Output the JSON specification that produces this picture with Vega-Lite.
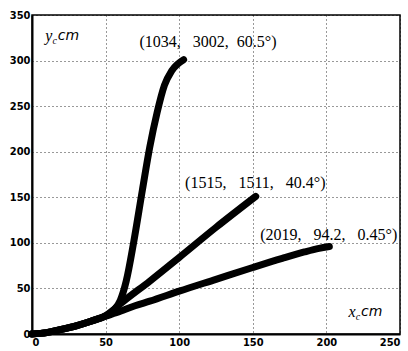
{
  "$schema": "https://vega.github.io/schema/vega-lite/v6.json",
  "width": 368,
  "height": 319,
  "autosize": "none",
  "padding": {"left": 32, "top": 15, "right": 8, "bottom": 17},
  "background": "white",
  "config": {
    "view": {"stroke": "black", "strokeWidth": 1.5},
    "axis": {
      "grid": true,
      "gridColor": "black",
      "gridDash": [1, 3],
      "gridOpacity": 0.8,
      "gridWidth": 1,
      "domainColor": "black",
      "domainWidth": 2,
      "ticks": false,
      "labelFont": "DejaVu Sans Condensed",
      "labelFontWeight": "bold",
      "labelFontSize": 11,
      "labelColor": "black",
      "title": null
    }
  },
  "datasets": {
    "curves": [
      {"curve": "a", "i": 0, "x": 0, "y": 0},
      {"curve": "a", "i": 1, "x": 10, "y": 1.5},
      {"curve": "a", "i": 2, "x": 20, "y": 5},
      {"curve": "a", "i": 3, "x": 30, "y": 9},
      {"curve": "a", "i": 4, "x": 40, "y": 14},
      {"curve": "a", "i": 5, "x": 50, "y": 20},
      {"curve": "a", "i": 6, "x": 56, "y": 27},
      {"curve": "a", "i": 7, "x": 60, "y": 37},
      {"curve": "a", "i": 8, "x": 64, "y": 58},
      {"curve": "a", "i": 9, "x": 69, "y": 100},
      {"curve": "a", "i": 10, "x": 75, "y": 158},
      {"curve": "a", "i": 11, "x": 80, "y": 205},
      {"curve": "a", "i": 12, "x": 85, "y": 243},
      {"curve": "a", "i": 13, "x": 90, "y": 273},
      {"curve": "a", "i": 14, "x": 95, "y": 289},
      {"curve": "a", "i": 15, "x": 103, "y": 301},
      {"curve": "b", "i": 0, "x": 0, "y": 0},
      {"curve": "b", "i": 1, "x": 10, "y": 1.5},
      {"curve": "b", "i": 2, "x": 20, "y": 5},
      {"curve": "b", "i": 3, "x": 30, "y": 9},
      {"curve": "b", "i": 4, "x": 40, "y": 14},
      {"curve": "b", "i": 5, "x": 50, "y": 20},
      {"curve": "b", "i": 6, "x": 55, "y": 26},
      {"curve": "b", "i": 7, "x": 60, "y": 33},
      {"curve": "b", "i": 8, "x": 80, "y": 58},
      {"curve": "b", "i": 9, "x": 100, "y": 84},
      {"curve": "b", "i": 10, "x": 125, "y": 117},
      {"curve": "b", "i": 11, "x": 152, "y": 151},
      {"curve": "c", "i": 0, "x": 0, "y": 0},
      {"curve": "c", "i": 1, "x": 10, "y": 1.5},
      {"curve": "c", "i": 2, "x": 20, "y": 5},
      {"curve": "c", "i": 3, "x": 30, "y": 9},
      {"curve": "c", "i": 4, "x": 40, "y": 14},
      {"curve": "c", "i": 5, "x": 50, "y": 19.5},
      {"curve": "c", "i": 6, "x": 60, "y": 25},
      {"curve": "c", "i": 7, "x": 70, "y": 31},
      {"curve": "c", "i": 8, "x": 80, "y": 36},
      {"curve": "c", "i": 9, "x": 100, "y": 47},
      {"curve": "c", "i": 10, "x": 125, "y": 60},
      {"curve": "c", "i": 11, "x": 150, "y": 73},
      {"curve": "c", "i": 12, "x": 170, "y": 83},
      {"curve": "c", "i": 13, "x": 185, "y": 90},
      {"curve": "c", "i": 14, "x": 195, "y": 94},
      {"curve": "c", "i": 15, "x": 202, "y": 96}
    ],
    "notes": [
      {"x": 73, "y": 320, "text": "(1034,\u00a0\u00a0\u00a03002,\u00a0\u00a060.5°)"},
      {"x": 104, "y": 166, "text": "(1515,\u00a0\u00a0\u00a01511,\u00a0\u00a0\u00a040.4°)"},
      {"x": 155, "y": 109, "text": "(2019,\u00a0\u00a0\u00a094.2,\u00a0\u00a0\u00a00.45°)"}
    ],
    "mainLabels": [
      {"x": 9, "y": 327, "text": "y"},
      {"x": 215, "y": 24, "text": "x"}
    ],
    "subLabels": [
      {"x": 14, "y": 322, "text": "c"},
      {"x": 220, "y": 19, "text": "c"}
    ],
    "unitLabels": [
      {"x": 17.5, "y": 327, "text": "cm"},
      {"x": 223.5, "y": 24, "text": "cm"}
    ]
  },
  "layer": [
    {
      "data": {"name": "curves"},
      "mark": {"type": "line", "color": "black", "strokeWidth": 7, "strokeCap": "round", "strokeJoin": "round", "interpolate": "monotone"},
      "encoding": {
        "x": {"field": "x", "type": "quantitative", "scale": {"domain": [0, 250], "nice": false}, "axis": {"values": [0, 50, 100, 150, 200, 250]}},
        "y": {"field": "y", "type": "quantitative", "scale": {"domain": [0, 350], "nice": false}, "axis": {"values": [0, 50, 100, 150, 200, 250, 300, 350]}},
        "detail": {"field": "curve"},
        "order": {"field": "i", "type": "quantitative"}
      }
    },
    {
      "data": {"name": "notes"},
      "mark": {"type": "text", "align": "left", "baseline": "middle", "font": "Liberation Serif", "fontSize": 16, "color": "black"},
      "encoding": {
        "x": {"field": "x", "type": "quantitative"},
        "y": {"field": "y", "type": "quantitative"},
        "text": {"field": "text"}
      }
    },
    {
      "data": {"name": "mainLabels"},
      "mark": {"type": "text", "align": "left", "baseline": "middle", "font": "Liberation Serif", "fontStyle": "italic", "fontSize": 16, "color": "black"},
      "encoding": {
        "x": {"field": "x", "type": "quantitative"},
        "y": {"field": "y", "type": "quantitative"},
        "text": {"field": "text"}
      }
    },
    {
      "data": {"name": "subLabels"},
      "mark": {"type": "text", "align": "left", "baseline": "middle", "font": "Liberation Serif", "fontStyle": "italic", "fontSize": 10, "color": "black"},
      "encoding": {
        "x": {"field": "x", "type": "quantitative"},
        "y": {"field": "y", "type": "quantitative"},
        "text": {"field": "text"}
      }
    },
    {
      "data": {"name": "unitLabels"},
      "mark": {"type": "text", "align": "left", "baseline": "middle", "font": "DejaVu Sans", "fontStyle": "italic", "fontSize": 14, "color": "black"},
      "encoding": {
        "x": {"field": "x", "type": "quantitative"},
        "y": {"field": "y", "type": "quantitative"},
        "text": {"field": "text"}
      }
    }
  ]
}
